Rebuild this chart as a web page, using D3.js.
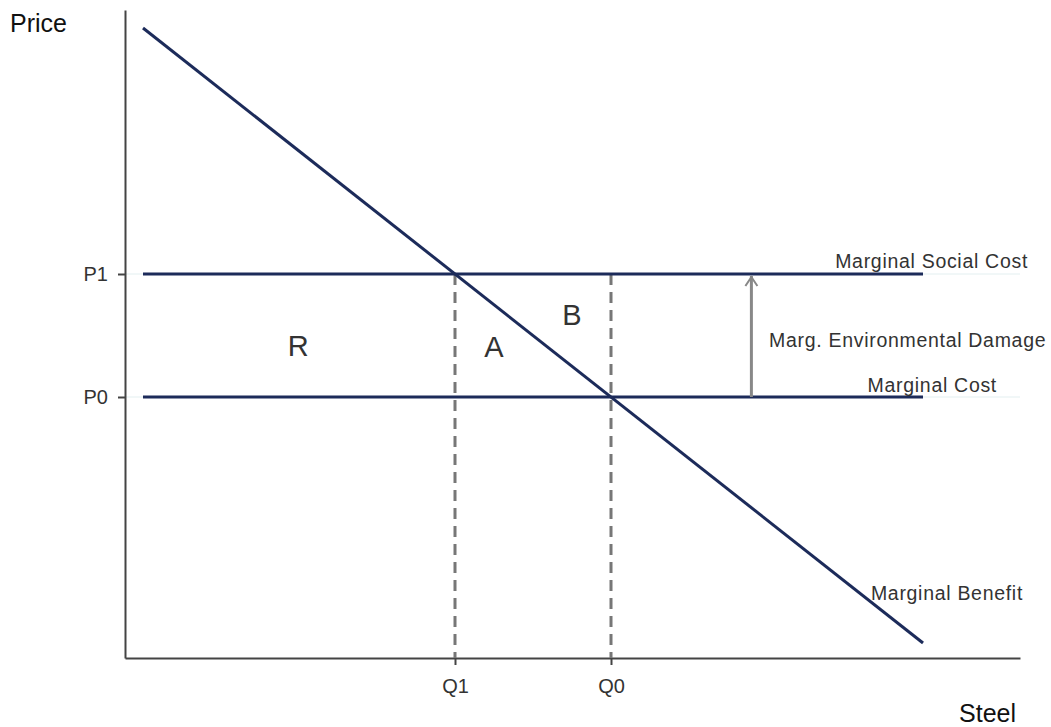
<!DOCTYPE html>
<html><head><meta charset="utf-8">
<script src="https://cdn.jsdelivr.net/npm/d3@7"></script>
<style>body{margin:0;background:#fff}text{font-family:"Liberation Sans",Arial,sans-serif}</style>
</head><body>
<svg id="c" width="1051" height="727"></svg>
<script>
// Data (abstract units)
const demandX = [0, 10];
const demandP = [10, 0];
const costLevels = [{name:"Marginal Social Cost", p:6}, {name:"Marginal Cost", p:4}];
const costRange = [0, 10];
const qTicks = [{label:"Q1", q:4}, {label:"Q0", q:6}];
const pTicks = [{label:"P1", p:6}, {label:"P0", p:4}];
const areaLabels = [{t:"R", q:1.99, p:4.67}, {t:"A", q:4.5, p:4.65}, {t:"B", q:5.5, p:5.17}];
const damageQ = 7.8;

const svg = d3.select("#c");
const x = d3.scaleLinear().domain([0,10]).range([143,923]);
const y = d3.scaleLinear().domain([0,10]).range([643,28]);
const xMin = x.invert(125), xMax = x.invert(1020);
const yMin = y.invert(658), yMax = y.invert(10);
const navy = "#1c2b5a", axisCol = "#444", txt = "#333";
const FF = '"Liberation Sans",Arial,sans-serif';

// faint grid lines at P ticks
svg.selectAll(".grid").data(pTicks).join("line")
  .attr("x1", x(xMin)).attr("x2", x(xMax))
  .attr("y1", d=>y(d.p)).attr("y2", d=>y(d.p))
  .attr("stroke", "#e3eff0").attr("stroke-width", 1);

// axes
const xAxisScale = x.copy().domain([xMin, xMax]).range([125,1020]);
const gx = svg.append("g").attr("transform", `translate(0,${y(yMin)})`)
  .call(d3.axisBottom(xAxisScale).tickValues(qTicks.map(d=>d.q))
    .tickFormat((d,i)=>qTicks[i].label).tickSize(7).tickSizeOuter(0).tickPadding(14));
const yAxisScale = y.copy().domain([yMin, yMax]).range([658,10]);
const gy = svg.append("g").attr("transform", `translate(${x(xMin)},0)`)
  .call(d3.axisLeft(yAxisScale).tickValues(pTicks.map(d=>d.p))
    .tickFormat((d,i)=>pTicks[i].label).tickSize(7).tickSizeOuter(0).tickPadding(10));
[gx, gy].forEach(g=>{
  g.attr("font-size", null).attr("font-family", null);
  g.select(".domain").attr("stroke", axisCol).attr("stroke-width", 2);
  g.selectAll(".tick line").attr("stroke", axisCol).attr("stroke-width", 2);
  g.selectAll(".tick text").attr("fill", txt).style("font-size", "20px")
    .style("font-family", FF);
});

// axis titles
svg.append("text").attr("x", 10).attr("y", 32).attr("font-size", 25).attr("fill", "#111").text("Price");
svg.append("text").attr("x", 1016).attr("y", 722).attr("text-anchor","end").attr("font-size", 25).attr("fill", "#111").text("Steel");

// dashed verticals
svg.selectAll(".vd").data(qTicks).join("line")
  .attr("x1", d=>x(d.q)).attr("x2", d=>x(d.q))
  .attr("y1", y(pTicks[0].p)).attr("y2", y(yMin))
  .attr("stroke", "#777").attr("stroke-width", 3).attr("stroke-dasharray", "11,7");

// cost lines
svg.selectAll(".cost").data(costLevels).join("line")
  .attr("x1", x(costRange[0])).attr("x2", x(costRange[1]))
  .attr("y1", d=>y(d.p)).attr("y2", d=>y(d.p))
  .attr("stroke", navy).attr("stroke-width", 3);

// demand
const line = d3.line().x(d=>x(d[0])).y(d=>y(d[1]));
svg.append("path").datum(d3.zip(demandX, demandP)).attr("d", line)
  .attr("fill","none").attr("stroke", navy).attr("stroke-width", 3);

// arrow
const ax = x(damageQ);
svg.append("line").attr("x1", ax).attr("x2", ax).attr("y1", y(4)).attr("y2", y(6)+2)
  .attr("stroke", "#888").attr("stroke-width", 3);
svg.append("path").attr("d", `M${ax-6},${y(6)+12}L${ax},${y(6)+3}L${ax+6},${y(6)+12}`)
  .attr("fill","none").attr("stroke","#888").attr("stroke-width", 2);

// area labels
svg.selectAll(".al").data(areaLabels).join("text")
  .attr("x", d=>x(d.q)).attr("y", d=>y(d.p)).attr("text-anchor","middle")
  .attr("font-size", 29).attr("fill", txt).text(d=>d.t);

// curve labels
const labels = [
  {t:"Marginal Social Cost", x:1028, y:268, a:"end"},
  {t:"Marg. Environmental Damage", x:769, y:347, a:"start"},
  {t:"Marginal Cost", x:997, y:392, a:"end"},
  {t:"Marginal Benefit", x:1023, y:600, a:"end"}
];
svg.selectAll(".cl").data(labels).join("text")
  .attr("x", d=>d.x).attr("y", d=>d.y).attr("text-anchor", d=>d.a)
  .attr("font-size", 19.5).attr("letter-spacing", 0.7).attr("fill", txt).text(d=>d.t);
</script>
</body></html>
